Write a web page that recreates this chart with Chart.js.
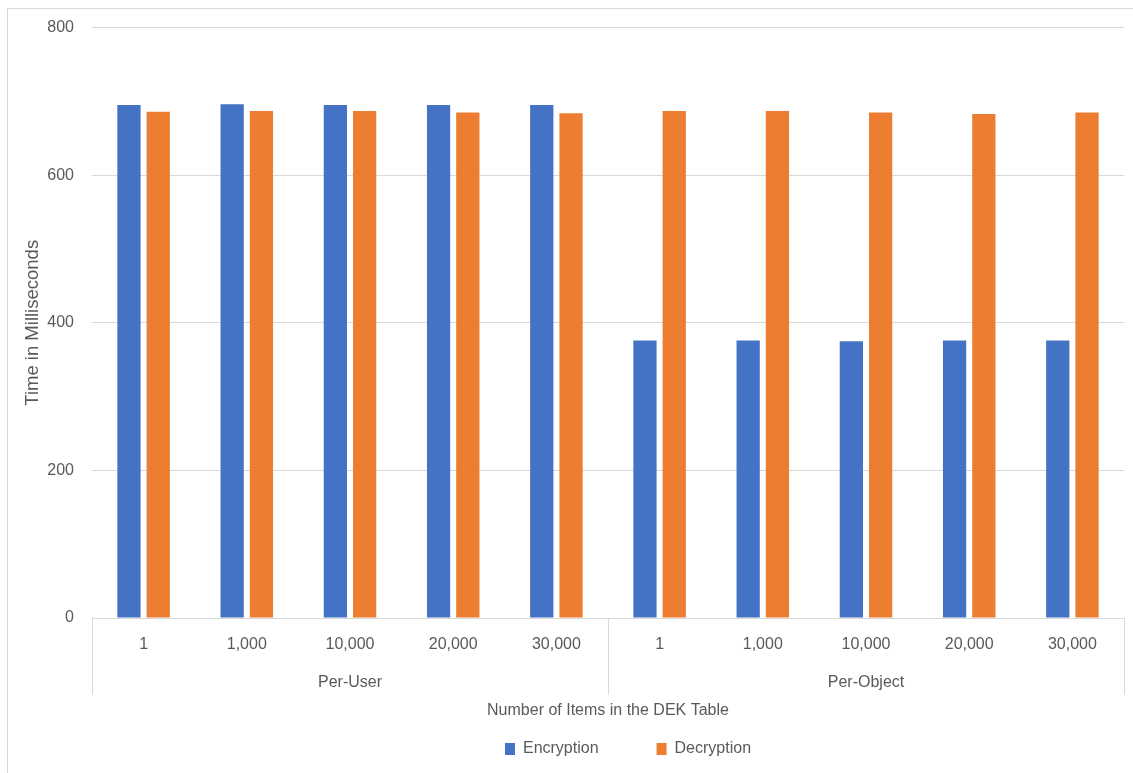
<!DOCTYPE html>
<html>
<head>
<meta charset="utf-8">
<script src="https://cdn.jsdelivr.net/npm/chart.js@4"></script>
<style>
  html, body { margin: 0; padding: 0; background: #ffffff; }
  #wrap { width: 1133px; height: 773px; position: relative; }
</style>
</head>
<body>
<div id="wrap"><canvas id="chart" width="1133" height="773"></canvas></div>
<script>
// Key-management schemes and DEK table sizes
const groups = ['Per-User', 'Per-Object'];
const itemCounts = ['1', '1,000', '10,000', '20,000', '30,000'];

// Time in milliseconds, Per-User first then Per-Object
const encryptionMs = [695, 696, 695, 695, 695, 376, 376, 375, 376, 376];
const decryptionMs = [686, 687, 687, 685, 684, 687, 687, 685, 683, 685];

const yTicks = [0, 200, 400, 600, 800];

const labels = groups.flatMap(() => itemCounts);

const FONT = "'Liberation Sans', Arial, sans-serif";
const TEXT = '#595959';
const LINE = '#d9d9d9';
const SIZE = 16;

Chart.defaults.font.family = FONT;
Chart.defaults.color = TEXT;

// White background plus the frame around the chart
const frame = {
  id: 'frame',
  beforeDraw(chart) {
    const ctx = chart.ctx;
    ctx.save();
    ctx.fillStyle = '#ffffff';
    ctx.fillRect(0, 0, chart.width, chart.height);
    ctx.strokeStyle = LINE;
    ctx.lineWidth = 1;
    ctx.strokeRect(7.5, 8.5, chart.width + 20, chart.height + 20);
    ctx.restore();
  }
};

// Second row of the category axis: group dividers and group names
const groupAxis = {
  id: 'groupAxis',
  afterDraw(chart) {
    const xs = chart.scales.x;
    const ctx = chart.ctx;
    const top = chart.chartArea.bottom;
    const bottom = top + 77;
    const per = itemCounts.length;
    const edges = [xs.left];
    for (let g = 1; g < groups.length; g++) {
      edges.push((xs.getPixelForValue(g * per - 1) + xs.getPixelForValue(g * per)) / 2);
    }
    edges.push(xs.right);
    ctx.save();
    ctx.strokeStyle = LINE;
    ctx.lineWidth = 1;
    edges.forEach(x => {
      const px = Math.round(x) + 0.5;
      ctx.beginPath();
      ctx.moveTo(px, top);
      ctx.lineTo(px, bottom);
      ctx.stroke();
    });
    ctx.fillStyle = TEXT;
    ctx.font = SIZE + 'px ' + FONT;
    ctx.textAlign = 'center';
    ctx.textBaseline = 'middle';
    groups.forEach((name, g) => {
      ctx.fillText(name, (edges[g] + edges[g + 1]) / 2, top + 65);
    });
    ctx.restore();
  }
};

// Centre the legend row a little right of the plot centre, as the workbook does
const legendNudge = {
  id: 'legendNudge',
  afterLayout(chart) {
    const lg = chart.legend;
    if (lg) { lg.left += 20; lg.right += 20; }
  }
};

new Chart(document.getElementById('chart'), {
  type: 'bar',
  data: {
    labels: labels,
    datasets: [
      { label: 'Encryption', data: encryptionMs, backgroundColor: '#4472C4', borderWidth: 0 },
      { label: 'Decryption', data: decryptionMs, backgroundColor: '#ED7D31', borderWidth: 0 }
    ]
  },
  options: {
    responsive: false,
    animation: false,
    devicePixelRatio: 1,
    datasets: { bar: { barPercentage: 0.795, categoryPercentage: 0.567 } },
    layout: { padding: { top: 25, right: 9, left: 0, bottom: 6 } },
    plugins: {
      tooltip: { enabled: false },
      legend: {
        position: 'bottom',
        fullSize: false,
        maxHeight: 84,
        labels: {
          boxWidth: 10,
          boxHeight: 12,
          padding: 58,
          color: TEXT,
          font: { size: SIZE }
        }
      }
    },
    scales: {
      x: {
        type: 'category',
        offset: true,
        grid: { display: false, drawTicks: false },
        border: { display: true, color: LINE, width: 1 },
        ticks: { color: TEXT, font: { size: SIZE }, padding: 17, maxRotation: 0, autoSkip: false },
        title: {
          display: true,
          text: 'Number of Items in the DEK Table',
          color: TEXT,
          font: { size: SIZE },
          padding: { top: 0, bottom: -37.6 }
        },
        afterFit(scale) { scale.height = 65; }
      },
      y: {
        min: 0,
        max: 800,
        afterBuildTicks(scale) { scale.ticks = yTicks.map(v => ({ value: v })); },
        grid: { color: LINE, lineWidth: 1, drawTicks: false },
        border: { display: false },
        ticks: { color: TEXT, font: { size: SIZE }, padding: 18 },
        title: {
          display: true,
          text: 'Time in Milliseconds',
          color: TEXT,
          font: { size: 18.5 },
          padding: { top: 22, bottom: 0 }
        },
        afterFit(scale) { scale.width = 92; }
      }
    }
  },
  plugins: [frame, groupAxis, legendNudge]
});
</script>
</body>
</html>
